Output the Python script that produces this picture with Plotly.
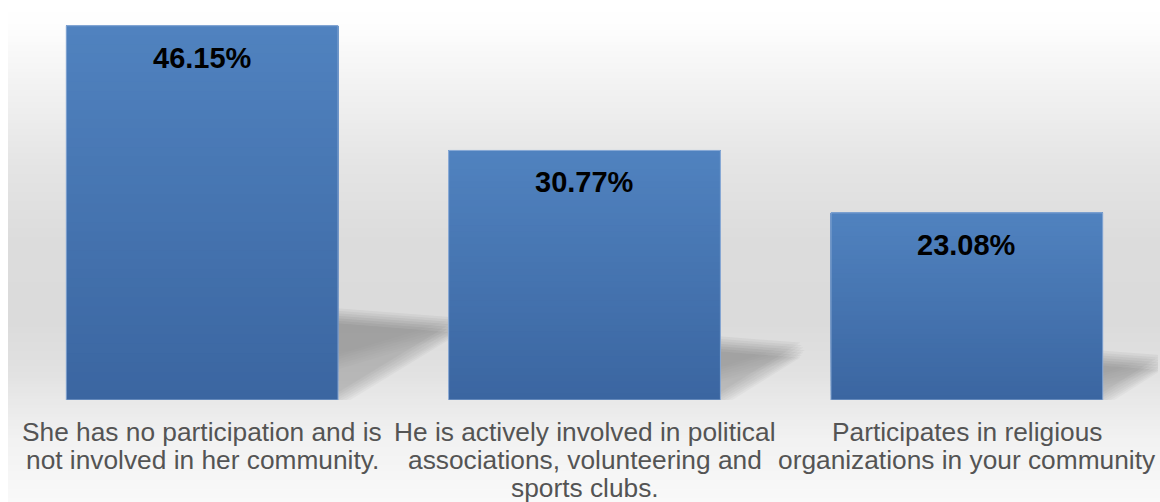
import plotly.graph_objects as go

# ---- data -------------------------------------------------------------
categories = [
    "She has no participation and is<br>not involved in her community.",
    "He is actively involved in political<br>associations, volunteering and<br>sports clubs.",
    "Participates in religious<br>organizations in your community",
]
values = [46.15, 30.77, 23.08]
value_labels = ["46.15%", "30.77%", "23.08%"]

# ---- layout constants -------------------------------------------------
W, H = 1160, 502
M_L, M_R, M_T, M_B = 11, 2, 20, 102
PLOT_W = W - M_L - M_R
PLOT_H = H - M_T - M_B
Y_MAX = 46.85
BAR_W = 0.711
FONT = "Liberation Sans, Arial, Helvetica, sans-serif"

BAR_TOP = (80, 130, 191)
BAR_BOTTOM = (59, 102, 161)


def mix(c0, c1, t):
    return "rgb({},{},{})".format(*[round(a + (b - a) * t) for a, b in zip(c0, c1)])


def px_to_paper_y(py):
    return (H - M_B - py) / PLOT_H


def px_to_paper_x(px):
    return (px - M_L) / PLOT_W


x_idx = list(range(len(categories)))

fig = go.Figure()
fig.add_trace(go.Bar(
    x=x_idx,
    y=values,
    width=BAR_W,
    marker=dict(color=mix(BAR_TOP, BAR_BOTTOM, 0.5), line=dict(width=0)),
    hovertext=[c.replace("<br>", " ") for c in categories],
    hoverinfo="text+y",
    showlegend=False,
))

shapes = []

# ---- soft grey backdrop (vertical gradient) ---------------------------
bg_stops = [(0, 255), (20, 254), (80, 243), (160, 229), (240, 220), (320, 219),
            (370, 225), (400, 233), (440, 242), (502, 249)]


def bg_grey(py):
    for (p0, g0), (p1, g1) in zip(bg_stops, bg_stops[1:]):
        if p0 <= py <= p1:
            return g0 + (g1 - g0) * (py - p0) / (p1 - p0)
    return bg_stops[-1][1]


for py in range(0, H, 3):
    g = round(bg_grey(py))
    shapes.append(dict(
        type="rect", xref="paper", yref="paper", layer="below",
        x0=px_to_paper_x(8), x1=px_to_paper_x(W + 2),
        y0=px_to_paper_y(H + 2), y1=px_to_paper_y(py),
        fillcolor=f"rgb({g},{g},{g})", line=dict(width=0),
    ))

# ---- perspective shadows cast behind each bar (blurred triangles) -----
UNIT_PX = PLOT_H / Y_MAX          # data units -> pixels (vertical)
X_UNIT_PX = PLOT_W / 3            # data units -> pixels (horizontal)
BLUR_OFFSETS = [-7.5, -5, -2.5, 0, 2.5, 5, 7.5]
for i, v in zip(x_idx, values):
    xr = i + BAR_W / 2
    top_y = 0.225 * v
    apex_x = xr + 0.0072 * v
    apex_y = 0.20 * v
    for s in BLUR_OFFSETS:
        dy = s / UNIT_PX
        dx = abs(s) * 0.6 / X_UNIT_PX
        # full shadow wedge
        shapes.append(dict(
            type="path", xref="x", yref="y", layer="below",
            path=f"M {xr},{top_y + dy} L {apex_x - dx},{apex_y + dy} L {xr},{dy} Z",
            fillcolor="black", opacity=0.029, line=dict(width=0),
        ))
        # extra density towards the far (upper) side
        shapes.append(dict(
            type="path", xref="x", yref="y", layer="below",
            path=f"M {xr},{top_y + dy} L {apex_x - dx},{apex_y + dy} "
                 f"L {xr},{top_y * 0.45 + dy} Z",
            fillcolor="black", opacity=0.011, line=dict(width=0),
        ))

# ---- vertical shading on the bars -------------------------------------
N_BAND = 40
for i, v in zip(x_idx, values):
    for k in range(N_BAND):
        t = k / (N_BAND - 1)
        shapes.append(dict(
            type="rect", xref="x", yref="y", layer="above",
            x0=i - BAR_W / 2, x1=i + BAR_W / 2, y0=v * k / N_BAND, y1=v,
            fillcolor=mix(BAR_BOTTOM, BAR_TOP, t), line=dict(width=0),
        ))
    shapes.append(dict(
        type="rect", xref="x", yref="y", layer="above",
        x0=i - BAR_W / 2, x1=i + BAR_W / 2, y0=0, y1=v,
        fillcolor="rgba(0,0,0,0)", line=dict(width=1, color="rgba(150,178,218,0.9)"),
    ))

# ---- text ---------------------------------------------------------------
annotations = []
for i, v, lab in zip(x_idx, values, value_labels):
    annotations.append(dict(
        x=i, y=v, xref="x", yref="y", text=lab, showarrow=False,
        yanchor="middle", yshift=-32,
        font=dict(family=FONT, size=29, color="#000000", weight="bold"),
    ))

LINE_SHIFTS = [-32, -60, -88]
for i, cat in zip(x_idx, categories):
    for line, dy in zip(cat.split("<br>"), LINE_SHIFTS):
        annotations.append(dict(
            x=i, y=0, xref="x", yref="y", text=line, showarrow=False,
            yanchor="middle", yshift=dy,
            font=dict(family=FONT, size=26.3, color="#545454"),
        ))

fig.update_layout(
    width=W, height=H,
    margin=dict(l=M_L, r=M_R, t=M_T, b=M_B, pad=0),
    paper_bgcolor="white",
    plot_bgcolor="rgba(0,0,0,0)",
    bargap=1 - BAR_W,
    shapes=shapes,
    annotations=annotations,
    xaxis=dict(range=[-0.5, 2.5], showgrid=False, zeroline=False, showline=False,
               showticklabels=False, ticks="", fixedrange=True),
    yaxis=dict(range=[0, Y_MAX], showgrid=False, zeroline=False, showline=False,
               showticklabels=False, ticks="", fixedrange=True),
    font=dict(family=FONT),
)

fig.write_html("out.html", config={"displayModeBar": False})
